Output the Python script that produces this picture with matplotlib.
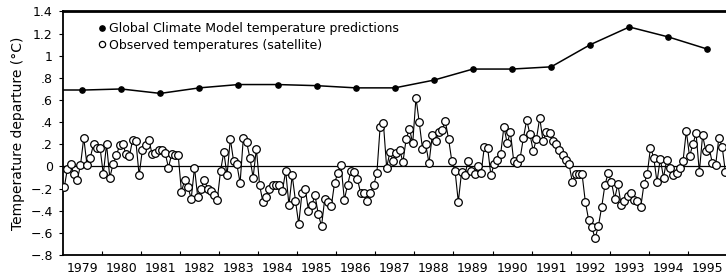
import matplotlib.pyplot as plt
import numpy as np
from matplotlib.lines import Line2D

# model predictions, one per year
model_years = list(range(1979, 1996))
model_temps = [0.69, 0.70, 0.66, 0.71, 0.74, 0.74, 0.73, 0.71, 0.71,
               0.78, 0.88, 0.88, 0.90, 1.10, 1.26, 1.17, 1.06]

# satellite observations, monthly, one row per year 1979..1995
observed = [
    -0.19, -0.02, 0.02, -0.07, -0.12, 0.01, 0.26, 0.01, 0.08, 0.20, 0.17, 0.17,
    -0.07, 0.20, -0.10, 0.02, 0.10, 0.19, 0.20, 0.11, 0.09, 0.24, 0.23, -0.08,
    0.15, 0.19, 0.24, 0.11, 0.12, 0.15, 0.15, 0.12, -0.01, 0.11, 0.10, 0.10,
    -0.23, -0.12, -0.19, -0.29, -0.01, -0.28, -0.20, -0.12, -0.20, -0.22, -0.26, -0.30,
    -0.04, 0.13, -0.08, 0.25, 0.05, 0.02, -0.15, 0.26, 0.22, 0.08, -0.10, 0.16,
    -0.17, -0.32, -0.28, -0.20, -0.17, -0.17, -0.17, -0.22, -0.04, -0.35, -0.08, -0.31,
    -0.52, -0.24, -0.20, -0.40, -0.35, -0.26, -0.43, -0.54, -0.29, -0.32, -0.36, -0.15,
    -0.06, 0.01, -0.30, -0.17, -0.04, -0.05, -0.11, -0.24, -0.24, -0.31, -0.24, -0.17,
    -0.06, 0.36, 0.39, -0.01, 0.13, 0.05, 0.12, 0.15, 0.04, 0.25, 0.34, 0.21,
    0.62, 0.40, 0.16, 0.20, 0.03, 0.28, 0.23, 0.31, 0.33, 0.41, 0.25, 0.05,
    -0.04, -0.32, -0.05, -0.08, 0.05, -0.04, -0.07, 0.00, -0.06, 0.18, 0.17, -0.08,
    0.02, 0.06, 0.11, 0.36, 0.21, 0.31, 0.05, 0.03, 0.08, 0.26, 0.42, 0.29,
    0.14, 0.25, 0.44, 0.23, 0.31, 0.30, 0.23, 0.20, 0.15, 0.10, 0.06, 0.02,
    -0.14, -0.07, -0.07, -0.07, -0.32, -0.48, -0.55, -0.65, -0.54, -0.37, -0.17, -0.06,
    -0.14, -0.29, -0.16, -0.35, -0.31, -0.27, -0.24, -0.30, -0.31, -0.37, -0.16, -0.07,
    0.17, 0.08, -0.14, 0.07, -0.10, 0.06, -0.01, -0.08, -0.06, -0.01, 0.05, 0.32,
    0.09, 0.20, 0.30, -0.05, 0.28, 0.14, 0.17, 0.03, 0.01, 0.26, 0.18, -0.05,
]

ytick_values = [-0.8, -0.6, -0.4, -0.2, 0, 0.2, 0.4, 0.6, 0.8, 1.0, 1.2, 1.4]
ytick_labels = ['\u2212.8', '\u2212.6', '\u2212.4', '\u2212.2', '0', '.2', '.4',
                '.6', '.8', '1', '1.2', '1.4']

fig = plt.figure(figsize=(7.26, 2.77), dpi=100)
ax = fig.add_axes([0.0862, 0.0794, 0.9152, 0.8791])

ax.axhline(0, color='black', lw=0.9, zorder=1)

obs_x = 1979 + (np.arange(len(observed)) + 0.5) / 12
ax.plot(obs_x, observed, '-o', color='black', lw=0.8, ms=5.5,
        mfc='white', mec='black', mew=0.9, zorder=3)

model_x = np.array(model_years) + 0.5
ax.plot(model_x, model_temps, '-o', color='black', lw=1.1, ms=3.8, zorder=3)
# line runs in from the left edge
ax.plot([1979, model_x[0]], [model_temps[0], model_temps[0]], color='black', lw=1.1)

h1 = Line2D([], [], ls='none', marker='o', color='black', ms=3.8)
h2 = Line2D([], [], ls='none', marker='o', mfc='white', mec='black', ms=4.5, mew=0.9)
ax.legend([h1, h2], ['Global Climate Model temperature predictions',
                     'Observed temperatures (satellite)'],
          loc='upper left', bbox_to_anchor=(0.053, 0.955), frameon=False,
          handlelength=0.6, handletextpad=0.3, borderpad=0, borderaxespad=0,
          labelspacing=0.25, fontsize=9)

ax.set_xlim(1979, 1996)
ax.set_ylim(-0.8, 1.4)
ax.set_xticks(range(1980, 1996))
ax.set_xticks(model_x, minor=True)
ax.set_xticklabels([str(y) for y in model_years], minor=True)
ax.tick_params(axis='x', which='major', labelbottom=False, direction='in', length=3)
ax.tick_params(axis='x', which='minor', length=0, pad=5, labelsize=9)

ax.set_yticks(ytick_values)
ax.set_yticklabels(ytick_labels)
ax.tick_params(axis='y', direction='out', length=3, pad=4, labelsize=9)
ax.set_ylabel('Temperature departure (\u00b0C)', fontsize=10, labelpad=4)

ax.spines['right'].set_visible(False)
ax.spines['top'].set_linewidth(2)
ax.spines['left'].set_linewidth(1.3)
ax.spines['bottom'].set_linewidth(1.3)

fig.savefig('out.png', dpi=100)
